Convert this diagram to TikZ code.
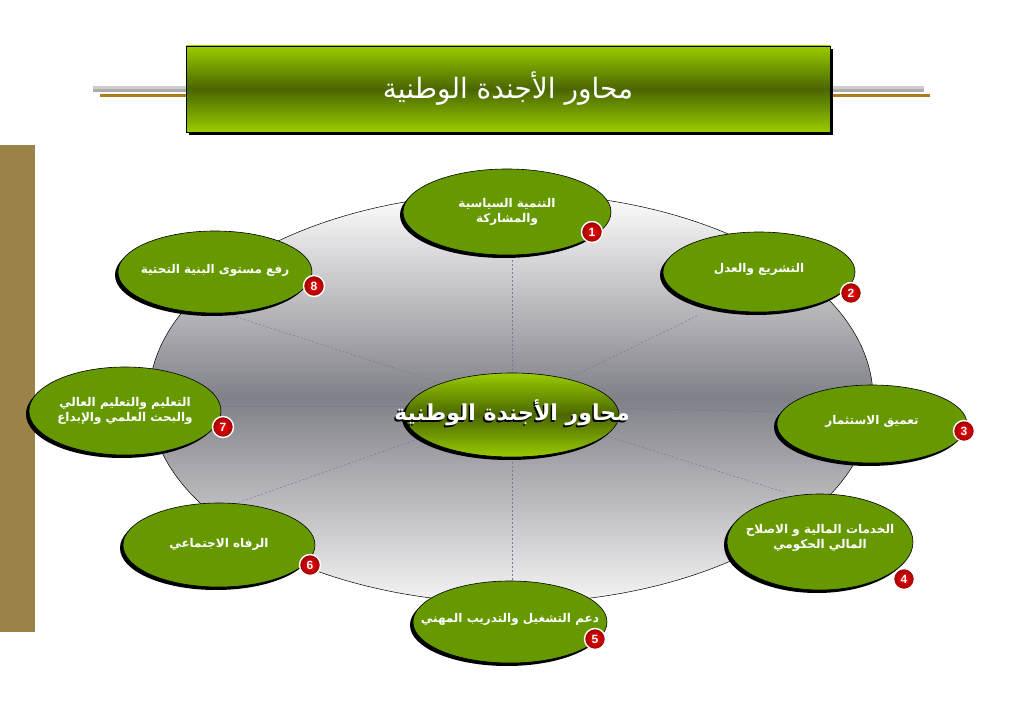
\documentclass[tikz,border=0pt]{standalone}
\usepackage{fontspec}
\setsansfont{Liberation Sans}
\newfontfamily\arabicfont[Script=Arabic]{DejaVu Sans}
\TeXXeTstate=1
\usetikzlibrary{shapes.geometric,shadows}
\definecolor{limeg}{RGB}{153,204,0}
\definecolor{oliveg}{RGB}{74,102,0}
\definecolor{nodegreen}{RGB}{102,153,0}
\definecolor{barbrown}{RGB}{153,131,73}
\definecolor{spoke}{RGB}{120,120,160}
\definecolor{linebrown}{RGB}{176,122,31}
\definecolor{wmark}{RGB}{238,233,220}
\definecolor{midgray}{RGB}{128,128,136}
\definecolor{lowgray}{RGB}{245,245,245}
\definecolor{badgered}{RGB}{240,10,10}
\definecolor{badgedark}{RGB}{160,0,0}
\newcommand{\AR}[1]{\beginR #1\endR}
\begin{document}
\begin{tikzpicture}[x=1pt,y=-1pt,
  topic/.style={ellipse, draw=black, line width=0.6pt, fill=nodegreen, inner sep=0pt,
    drop shadow={shadow xshift=-3pt, shadow yshift=-3pt, fill=black, opacity=1}},
  topictext/.style={text=white, font=\arabicfont\bfseries\fontsize{12}{15}\selectfont, align=center, inner sep=0pt},
  badge/.style={circle, minimum size=21pt, inner sep=0pt, inner color=badgered, outer color=badgedark,
    draw=white, line width=1.4pt, text=white, font=\sffamily\bfseries\fontsize{12}{12}\selectfont},
  spokeline/.style={draw=spoke, line width=0.5pt, dash pattern=on 2pt off 2pt},
  faintline/.style={draw=spoke!60!gray, line width=0.4pt},
]
\useasboundingbox (0,0) rectangle (1023,708);
\fill[white] (0,0) rectangle (1023,708);

% watermark
\foreach \r in {22,18,14}{
  \draw[wmark, line width=1pt] (485-\r,200) arc[start angle=180, end angle=0, radius=\r];
  \draw[wmark, line width=1pt] (545-\r,200) arc[start angle=180, end angle=0, radius=\r];
}
\foreach \r in {32,27,22}{
  \draw[wmark, line width=1pt] (515-\r,185) arc[start angle=180, end angle=0, radius=\r];
}

% big ellipse
\shade[top color=white, bottom color=lowgray, middle color=midgray]
  (511,398) ellipse [x radius=362, y radius=205];
\draw[black, line width=0.5pt] (511,398) ellipse [x radius=362, y radius=205];

% spokes
\coordinate (hub) at (512,406);
\coordinate (eT) at (512,197);
\coordinate (eB) at (512,602);
\coordinate (eUL) at (230,315);
\coordinate (eLL) at (237,503);
\coordinate (eUR) at (697,316);
\coordinate (eLR) at (787,493);
\coordinate (eL) at (150,406);
\coordinate (eR) at (873,414);
\foreach \e in {eT,eB,eUL,eLL,eUR,eLR}{\draw[spokeline] (hub) -- (\e);}
\foreach \e in {eL,eR}{\draw[faintline] (hub) -- (\e);}

% title bars
\fill[gray!40] (93,86) rectangle (186,89);
\fill[gray!65] (93,89) rectangle (186,92);
\fill[linebrown] (100,94) rectangle (186,97);
\fill[gray!40] (830,86) rectangle (924,89);
\fill[gray!65] (830,89) rectangle (924,92);
\fill[linebrown] (830,94) rectangle (930,97);

\node[rectangle, draw=black, line width=0.6pt, minimum width=644pt, minimum height=86pt,
  top color=limeg, bottom color=limeg, middle color=oliveg,
  drop shadow={shadow xshift=3pt, shadow yshift=-3pt, fill=black, opacity=1},
  text=white, font=\arabicfont\fontsize{28}{32}\selectfont] (title) at (508,89)
  {\AR{محاور الأجندة الوطنية}};

% side bar
\fill[barbrown] (0,145) rectangle (35,632);

% topics
\node[topic, minimum width=208pt, minimum height=86pt] (n1) at (507,212) {};
\node[topictext] (t1) at (n1.center) {\AR{التنمية السياسية}\\\AR{والمشاركة}};
\node[topic, minimum width=192pt, minimum height=80pt] (n2) at (759,272) {};
\node[topictext] (t2) at ([yshift=3pt]n2.center) {\AR{التشريع والعدل}};
\node[topic, minimum width=190pt, minimum height=78pt] (n3) at (872,424) {};
\node[topictext] (t3) at ([yshift=3pt]n3.center) {\AR{تعميق الاستثمار}};
\node[topic, minimum width=186pt, minimum height=96pt] (n4) at (820,542) {};
\node[topictext] (t4) at ([yshift=4pt]n4.center) {\AR{الخدمات المالية و الاصلاح}\\\AR{المالي الحكومي}};
\node[topic, minimum width=194pt, minimum height=82pt] (n5) at (510,622) {};
\node[topictext] (t5) at ([yshift=3pt]n5.center) {\AR{دعم التشغيل والتدريب المهني}};
\node[topic, minimum width=192pt, minimum height=84pt] (n6) at (219,545) {};
\node[topictext] (t6) at ([yshift=1pt]n6.center) {\AR{الرفاه الاجتماعي}};
\node[topic, minimum width=192pt, minimum height=88pt] (n7) at (125,411) {};
\node[topictext] (t7) at (n7.center) {\AR{التعليم والتعليم العالي}\\\AR{والبحث العلمي والإبداع}};
\node[topic, minimum width=194pt, minimum height=82pt] (n8) at (215,272) {};
\node[topictext] (t8) at ([yshift=2pt]n8.center) {\AR{رفع مستوى البنية التحتية}};

% badges
\node[badge] (b1) at (592,232) {1};
\node[badge] (b2) at (851,293) {2};
\node[badge] (b3) at (964,431) {3};
\node[badge] (b4) at (904,579) {4};
\node[badge] (b5) at (595,639) {5};
\node[badge] (b6) at (310,565) {6};
\node[badge] (b7) at (223,427) {7};
\node[badge] (b8) at (314,286) {8};

% center
\node[ellipse, draw=black, line width=0.6pt, minimum width=214pt, minimum height=84pt,
  inner sep=0pt, top color=limeg, bottom color=limeg, middle color=oliveg,
  drop shadow={shadow xshift=-3pt, shadow yshift=-3pt, fill=black, opacity=1}] (ctr) at (512,415) {};
\node[text=black, font=\arabicfont\bfseries\fontsize{22}{26}\selectfont] (ctrshadow) at (510.5,414.5)
  {\AR{محاور الأجندة الوطنية}};
\node[text=white, font=\arabicfont\bfseries\fontsize{22}{26}\selectfont] (ctrtext) at (512,413)
  {\AR{محاور الأجندة الوطنية}};
\end{tikzpicture}
\end{document}
